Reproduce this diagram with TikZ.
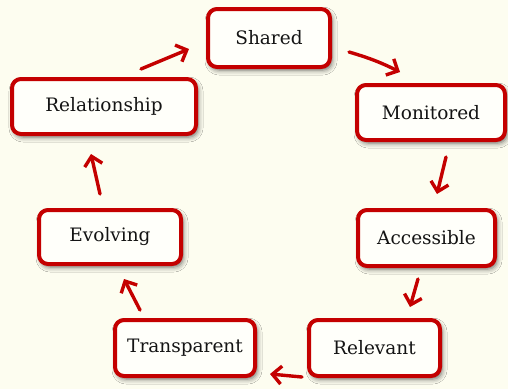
\documentclass[tikz,border=0pt]{standalone}
\usepackage{fontspec}
\setmainfont{DejaVu Serif}
\usetikzlibrary{arrows.meta,shadows.blur}
\definecolor{paper}{RGB}{253,253,240}
\definecolor{boxred}{RGB}{196,0,0}
\definecolor{boxfill}{RGB}{255,255,250}
\tikzset{
  stage/.style={draw=boxred, line width=4pt, rounded corners=9pt, fill=boxfill,
    font=\fontsize{18.5}{21}\selectfont, text=black!92, inner sep=0pt,
    blur shadow={shadow xshift=2pt, shadow yshift=-3pt, shadow blur radius=5pt, shadow opacity=60}},
  flow/.style={draw=boxred, line width=3.4pt, line cap=round,
    -{Straight Barb[length=9pt, width=18pt, line width=3.4pt]}}
}
\begin{document}
\begin{tikzpicture}[x=1pt, y=-1pt]
\useasboundingbox (0,0) rectangle (508,389);
\fill[paper] (0,0) rectangle (508,389);

% the seven stages
\node[stage, minimum width=122pt, minimum height=58pt] (shared)  at (269,38)    {Shared};
\node[stage, minimum width=148pt, minimum height=55pt] (monitor) at (431,112.5) {Monitored};
\node[stage, minimum width=137pt, minimum height=56pt] (access)  at (426.5,238) {Accessible};
\node[stage, minimum width=131pt, minimum height=56pt] (relev)   at (374.5,348) {Relevant};
\node[stage, minimum width=140pt, minimum height=56pt] (transp)  at (185,348)   {Transparent};
\node[stage, minimum width=142pt, minimum height=54pt] (evolve)  at (110,237)   {Evolving};
\node[stage, minimum width=184pt, minimum height=55pt] (relat)   at (104,106.5) {Relationship};

% free-standing arrow ends between the stages
\coordinate (a1) at (141,69);  \coordinate (b1) at (189,49);
\coordinate (a2) at (349,52);  \coordinate (b2) at (400,72);
\coordinate (a3) at (446,157); \coordinate (b3) at (437,194);
\coordinate (a4) at (418,279); \coordinate (b4) at (410,307);
\coordinate (a5) at (302,377); \coordinate (b5) at (270,374);
\coordinate (a6) at (140,310); \coordinate (b6) at (124,279);
\coordinate (a7) at (100,194); \coordinate (b7) at (91,154);

\draw[flow] (a1) -- (b1);
\draw[flow] (a2) to[bend left=5] (b2);
\draw[flow] (a3) -- (b3);
\draw[flow] (a4) -- (b4);
\draw[flow] (a5) -- (b5);
\draw[flow] (a6) -- (b6);
\draw[flow] (a7) -- (b7);
\end{tikzpicture}
\end{document}
